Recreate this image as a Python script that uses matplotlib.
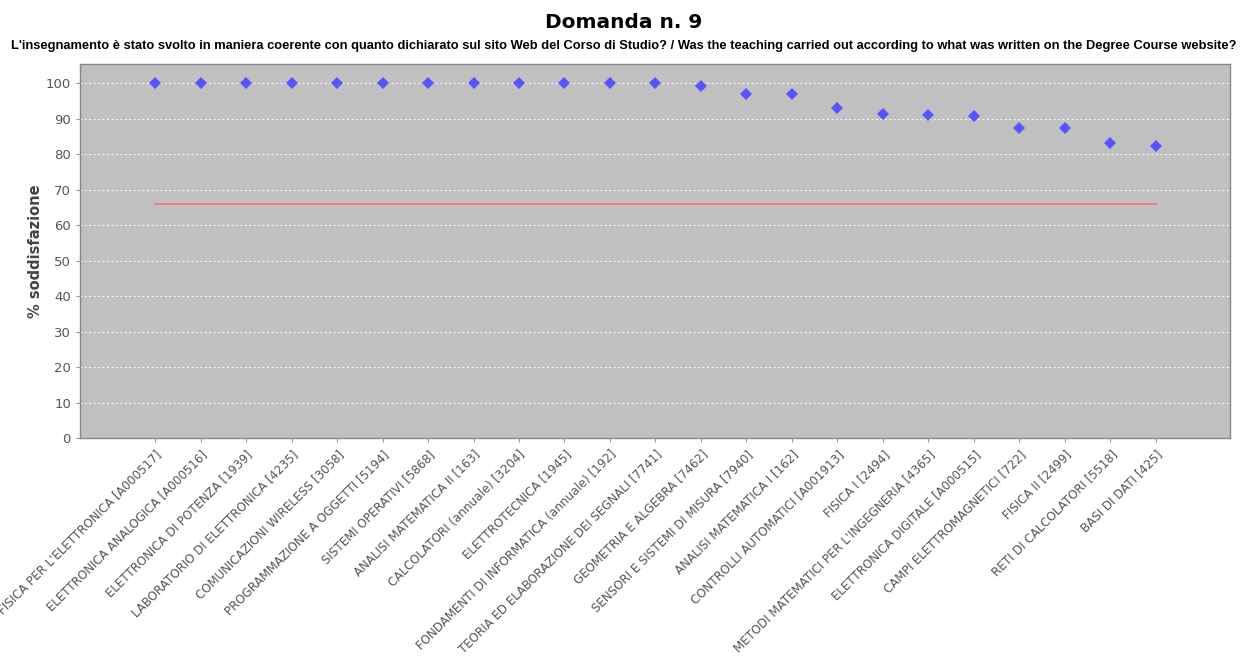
import matplotlib
matplotlib.use("Agg")
import matplotlib.pyplot as plt
import numpy as np

# insegnamenti (ordinati per soddisfazione)
courses = [
    "FISICA PER L'ELETTRONICA [A000517]",
    "ELETTRONICA ANALOGICA [A000516]",
    "ELETTRONICA DI POTENZA [1939]",
    "LABORATORIO DI ELETTRONICA [4235]",
    "COMUNICAZIONI WIRELESS [3058]",
    "PROGRAMMAZIONE A OGGETTI [5194]",
    "SISTEMI OPERATIVI [5868]",
    "ANALISI MATEMATICA II [163]",
    "CALCOLATORI (annuale) [3204]",
    "ELETTROTECNICA [1945]",
    "FONDAMENTI DI INFORMATICA (annuale) [192]",
    "TEORIA ED ELABORAZIONE DEI SEGNALI [7741]",
    "GEOMETRIA E ALGEBRA [7462]",
    "SENSORI E SISTEMI DI MISURA [7940]",
    "ANALISI MATEMATICA I [162]",
    "CONTROLLI AUTOMATICI [A001913]",
    "FISICA I [2494]",
    "METODI MATEMATICI PER L'INGEGNERIA [4365]",
    "ELETTRONICA DIGITALE [A000515]",
    "CAMPI ELETTROMAGNETICI [722]",
    "FISICA II [2499]",
    "RETI DI CALCOLATORI [5518]",
    "BASI DI DATI [425]",
]
satisfaction = [100, 100, 100, 100, 100, 100, 100, 100, 100, 100, 100, 100,
                99.2, 97.1, 96.9, 93.1, 91.3, 91.2, 90.7, 87.4, 87.4, 83.3, 82.3]
threshold = 66

fig = plt.figure(figsize=(12.48, 6.67), dpi=100)
ax = fig.add_axes([0.0641, 0.3433, 0.9215, 0.5603])

x = np.arange(len(courses))
ax.plot(x, [threshold] * len(x), color="#ff7070", linewidth=1.2, zorder=2)
ax.plot(x, satisfaction, linestyle="none", marker="D", markersize=6,
        color="#5555ff", markeredgewidth=0, zorder=3)

ax.set_facecolor("#c0c0c0")
ax.set_xlim(-1.65, len(courses) - 1 + 1.63)
ax.set_ylim(0, 105.4)
ax.set_yticks(range(0, 101, 10))
ax.yaxis.grid(True, color="white", linestyle=(0, (1.5, 2.5)), linewidth=0.8)
ax.set_axisbelow(True)
for s in ax.spines.values():
    s.set_color("#888888")
    s.set_linewidth(1)

ax.set_xticks(x)
# la prima etichetta esce dal bordo sinistro, come nell'originale
ax.set_xticklabels(courses, rotation=45, ha="right", rotation_mode="anchor",
                   fontsize=8.6, color="#555555", family="DejaVu Sans")
ax.tick_params(axis="x", length=3, color="#999999", pad=4)
ax.tick_params(axis="y", length=3, color="#999999", labelsize=9.5, labelcolor="#555555")

ax.set_ylabel("% soddisfazione", fontsize=10.5, color="#444444", fontweight="bold",
              family="DejaVu Sans", labelpad=2)

fig.text(0.5, 0.967, "Domanda n. 9", ha="center", va="center",
         fontsize=14.5, fontweight="bold", family="DejaVu Sans")
fig.text(0.5, 0.931,
         "L'insegnamento è stato svolto in maniera coerente con quanto dichiarato sul sito Web del Corso di Studio? "
         "/ Was the teaching carried out according to what was written on the Degree Course website?",
         ha="center", va="center", fontsize=9.3, fontweight="bold", family="Liberation Sans")

fig.savefig("out.png", dpi=100)
